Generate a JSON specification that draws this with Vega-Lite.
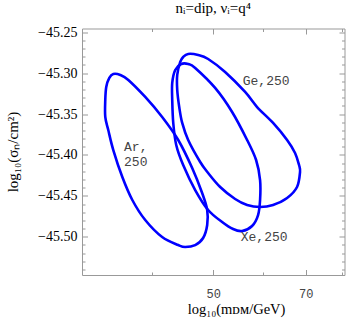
{
  "$schema": "https://vega.github.io/schema/vega-lite/v6.json",
  "autosize": "none",
  "width": 262.5,
  "height": 246.5,
  "padding": {"left": 82, "top": 28.5, "right": 1.5, "bottom": 44},
  "background": "white",
  "title": {"text": "nᵢ=dip, νᵢ=q⁴", "font": "Liberation Serif", "fontSize": 15, "fontWeight": "normal", "color": "black", "offset": 9, "frame": "group", "anchor": "middle"},
  "config": {
    "view": {"stroke": "#999999", "strokeWidth": 1},
    "axis": {"grid": false, "domain": false, "tickColor": "#999999", "tickWidth": 1}
  },
  "datasets": {
    "curves": [
      {"set": "Ar", "i": 1, "x": 34.78, "y": -45.3010},
      {"set": "Ar", "i": 2, "x": 35.68, "y": -45.3022},
      {"set": "Ar", "i": 3, "x": 36.73, "y": -45.3083},
      {"set": "Ar", "i": 4, "x": 39.06, "y": -45.3291},
      {"set": "Ar", "i": 5, "x": 41.54, "y": -45.3536},
      {"set": "Ar", "i": 6, "x": 44.04, "y": -45.3817},
      {"set": "Ar", "i": 7, "x": 46.33, "y": -45.4160},
      {"set": "Ar", "i": 8, "x": 48.04, "y": -45.4466},
      {"set": "Ar", "i": 9, "x": 48.93, "y": -45.4673},
      {"set": "Ar", "i": 10, "x": 48.93, "y": -45.4857},
      {"set": "Ar", "i": 11, "x": 48.21, "y": -45.5016},
      {"set": "Ar", "i": 12, "x": 46.84, "y": -45.5102},
      {"set": "Ar", "i": 13, "x": 45.17, "y": -45.5126},
      {"set": "Ar", "i": 14, "x": 44.04, "y": -45.5102},
      {"set": "Ar", "i": 15, "x": 41.54, "y": -45.5004},
      {"set": "Ar", "i": 16, "x": 39.06, "y": -45.4796},
      {"set": "Ar", "i": 17, "x": 37.27, "y": -45.4551},
      {"set": "Ar", "i": 18, "x": 35.94, "y": -45.4270},
      {"set": "Ar", "i": 19, "x": 34.78, "y": -45.3940},
      {"set": "Ar", "i": 20, "x": 34.15, "y": -45.3695},
      {"set": "Ar", "i": 21, "x": 33.78, "y": -45.3536},
      {"set": "Ar", "i": 22, "x": 33.78, "y": -45.3328},
      {"set": "Ar", "i": 23, "x": 33.90, "y": -45.3169},
      {"set": "Ar", "i": 24, "x": 34.28, "y": -45.3059},
      {"set": "Ge", "i": 1, "x": 45.66, "y": -45.2765},
      {"set": "Ge", "i": 2, "x": 47.35, "y": -45.2778},
      {"set": "Ge", "i": 3, "x": 49.10, "y": -45.2827},
      {"set": "Ge", "i": 4, "x": 52.22, "y": -45.2986},
      {"set": "Ge", "i": 5, "x": 56.16, "y": -45.3230},
      {"set": "Ge", "i": 6, "x": 58.66, "y": -45.3414},
      {"set": "Ge", "i": 7, "x": 62.17, "y": -45.3609},
      {"set": "Ge", "i": 8, "x": 65.42, "y": -45.3817},
      {"set": "Ge", "i": 9, "x": 67.34, "y": -45.3976},
      {"set": "Ge", "i": 10, "x": 68.32, "y": -45.4123},
      {"set": "Ge", "i": 11, "x": 68.57, "y": -45.4209},
      {"set": "Ge", "i": 12, "x": 67.83, "y": -45.4392},
      {"set": "Ge", "i": 13, "x": 65.42, "y": -45.4527},
      {"set": "Ge", "i": 14, "x": 62.17, "y": -45.4612},
      {"set": "Ge", "i": 15, "x": 59.30, "y": -45.4637},
      {"set": "Ge", "i": 16, "x": 56.57, "y": -45.4612},
      {"set": "Ge", "i": 17, "x": 54.16, "y": -45.4539},
      {"set": "Ge", "i": 18, "x": 51.29, "y": -45.4392},
      {"set": "Ge", "i": 19, "x": 49.10, "y": -45.4221},
      {"set": "Ge", "i": 20, "x": 47.70, "y": -45.4086},
      {"set": "Ge", "i": 21, "x": 45.66, "y": -45.3817},
      {"set": "Ge", "i": 22, "x": 44.68, "y": -45.3609},
      {"set": "Ge", "i": 23, "x": 44.20, "y": -45.3414},
      {"set": "Ge", "i": 24, "x": 43.88, "y": -45.3206},
      {"set": "Ge", "i": 25, "x": 43.88, "y": -45.3022},
      {"set": "Ge", "i": 26, "x": 44.36, "y": -45.2863},
      {"set": "Ge", "i": 27, "x": 44.84, "y": -45.2802},
      {"set": "Xe", "i": 1, "x": 44.52, "y": -45.2888},
      {"set": "Xe", "i": 2, "x": 45.66, "y": -45.2888},
      {"set": "Xe", "i": 3, "x": 46.84, "y": -45.2937},
      {"set": "Xe", "i": 4, "x": 50.36, "y": -45.3181},
      {"set": "Xe", "i": 5, "x": 53.57, "y": -45.3475},
      {"set": "Xe", "i": 6, "x": 56.57, "y": -45.3817},
      {"set": "Xe", "i": 7, "x": 58.45, "y": -45.4062},
      {"set": "Xe", "i": 8, "x": 59.30, "y": -45.4307},
      {"set": "Xe", "i": 9, "x": 59.30, "y": -45.4551},
      {"set": "Xe", "i": 10, "x": 58.87, "y": -45.4735},
      {"set": "Xe", "i": 11, "x": 57.60, "y": -45.4869},
      {"set": "Xe", "i": 12, "x": 55.55, "y": -45.4930},
      {"set": "Xe", "i": 13, "x": 53.76, "y": -45.4906},
      {"set": "Xe", "i": 14, "x": 51.66, "y": -45.4820},
      {"set": "Xe", "i": 15, "x": 49.10, "y": -45.4673},
      {"set": "Xe", "i": 16, "x": 46.84, "y": -45.4429},
      {"set": "Xe", "i": 17, "x": 44.84, "y": -45.4123},
      {"set": "Xe", "i": 18, "x": 43.72, "y": -45.3878},
      {"set": "Xe", "i": 19, "x": 43.25, "y": -45.3609},
      {"set": "Xe", "i": 20, "x": 43.09, "y": -45.3328},
      {"set": "Xe", "i": 21, "x": 43.09, "y": -45.3120},
      {"set": "Xe", "i": 22, "x": 43.56, "y": -45.2961}
    ],
    "labels": [
      {"label": "Ar,", "x": 37.74, "y": -45.3899},
      {"label": "250", "x": 37.74, "y": -45.4083},
      {"label": "Ge,250", "x": 60.62, "y": -45.3090},
      {"label": "Xe,250", "x": 60.18, "y": -45.5004}
    ]
  },
  "layer": [
    {
      "data": {"name": "curves"},
      "mark": {"type": "line", "interpolate": "cardinal-closed", "color": "#0000ff", "strokeWidth": 2.6},
      "encoding": {
        "x": {"field": "x", "type": "quantitative",
              "scale": {"type": "log", "domain": [31.04, 80.6], "nice": false, "zero": false},
              "axis": {"orient": "bottom", "values": [50, 70], "tickSize": -5.5, "labelPadding": 19,
                       "labelFont": "Liberation Mono", "labelFontSize": 12, "labelColor": "#444444",
                       "title": "log₁₀(mᴅᴍ/GeV)", "titleFont": "Liberation Serif", "titleFontSize": 14.5,
                       "titleFontWeight": "normal", "titleColor": "black", "titleX": 154, "titleY": 34, "titleBaseline": "middle"}},
        "y": {"field": "y", "type": "quantitative",
              "scale": {"domain": [-45.5468, -45.2454], "nice": false, "zero": false},
              "axis": {"orient": "left", "values": [-45.25, -45.3, -45.35, -45.4, -45.45, -45.5], "format": ".2f",
                       "tickSize": -5.5, "labelPadding": 10.5,
                       "labelFont": "Liberation Serif", "labelFontSize": 14, "labelColor": "black",
                       "title": "log₁₀(σₙ/cm²)", "titleFont": "Liberation Serif", "titleFontSize": 15,
                       "titleFontWeight": "normal", "titleColor": "black", "titleX": -70, "titleY": 123,
                       "titleAngle": -90, "titleBaseline": "middle", "titleAlign": "center"}},
        "detail": {"field": "set", "type": "nominal"},
        "order": {"field": "i", "type": "quantitative"}
      }
    },
    {
      "data": {"name": "labels"},
      "mark": {"type": "text", "font": "Liberation Mono", "fontSize": 13, "color": "#444444", "align": "center", "baseline": "middle"},
      "encoding": {
        "x": {"field": "x", "type": "quantitative",
              "axis": {"orient": "top", "values": [50, 70], "tickSize": -5.5, "labels": false, "title": null}},
        "y": {"field": "y", "type": "quantitative",
              "axis": {"orient": "right", "values": [-45.25, -45.3, -45.35, -45.4, -45.45, -45.5], "tickSize": -5.5, "labels": false, "title": null}},
        "text": {"field": "label", "type": "nominal"}
      }
    },
    {
      "data": {"name": "labels"},
      "mark": {"type": "point", "opacity": 0},
      "encoding": {
        "x": {"field": "x", "type": "quantitative",
              "axis": {"orient": "bottom", "values": [40, 60, 80], "tickSize": -3, "labels": false, "title": null}},
        "y": {"field": "y", "type": "quantitative",
              "axis": {"orient": "left", "values": [-45.54, -45.53, -45.52, -45.51, -45.49, -45.48, -45.47, -45.46, -45.44, -45.43, -45.42, -45.41, -45.39, -45.38, -45.37, -45.36, -45.34, -45.33, -45.32, -45.31, -45.29, -45.28, -45.27, -45.26], "tickSize": -3, "labels": false, "title": null}}
      }
    },
    {
      "data": {"name": "labels"},
      "mark": {"type": "point", "opacity": 0},
      "encoding": {
        "x": {"field": "x", "type": "quantitative",
              "axis": {"orient": "top", "values": [40, 60, 80], "tickSize": -3, "labels": false, "title": null}},
        "y": {"field": "y", "type": "quantitative",
              "axis": {"orient": "right", "values": [-45.54, -45.53, -45.52, -45.51, -45.49, -45.48, -45.47, -45.46, -45.44, -45.43, -45.42, -45.41, -45.39, -45.38, -45.37, -45.36, -45.34, -45.33, -45.32, -45.31, -45.29, -45.28, -45.27, -45.26], "tickSize": -3, "labels": false, "title": null}}
      }
    }
  ],
  "resolve": {"axis": {"x": "independent", "y": "independent"}}
}
